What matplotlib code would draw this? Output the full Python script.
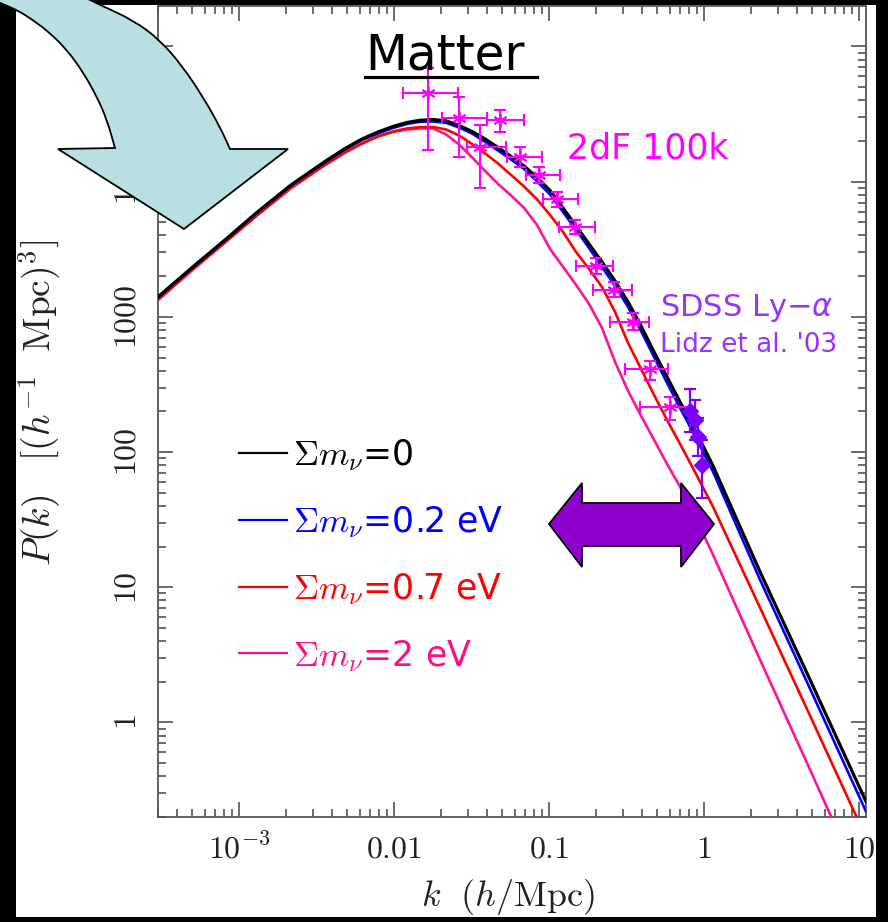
import numpy as np
import matplotlib
matplotlib.use('Agg')
import matplotlib.pyplot as plt
from matplotlib.path import Path
from matplotlib.patches import PathPatch, Rectangle, Polygon
from matplotlib.lines import Line2D
from matplotlib.ticker import FixedLocator, FixedFormatter, LogLocator, NullFormatter

plt.rcParams['mathtext.fontset'] = 'cm'
plt.rcParams['font.family'] = ['DejaVu Sans']

# ---------------- data ----------------
k_grid = [3.00e-4, 4.90e-4, 8.12e-4, 1.327e-3, 2.165e-3, 3.587e-3, 4.83e-3,
          6.22e-3, 7.88e-3, 9.85e-3, 0.01213, 0.01471, 0.01785, 0.02165,
          0.02626, 0.03187, 0.03865, 0.04688, 0.05686, 0.0690, 0.0837,
          0.1015, 0.1231, 0.1493, 0.1811, 0.2197, 0.2665, 0.3233, 0.3922,
          0.4757, 0.5771, 0.7000, 0.9012, 1.143, 2.298, 4.83, 11.10]

P_mnu_0 = [1405, 2283, 3708, 6023, 9454, 14105, 17597, 20687, 23297, 25587,
           27385, 28426, 28816, 28184, 26024, 23496, 20687, 17895, 15361,
           13062, 10740, 8610, 6391, 4706, 3463, 2550, 1846, 1291, 858, 551,
           360, 235.4, 136.6, 79.2, 13.04, 2.075, 0.2602]
P_mnu_02 = [1393, 2264, 3676, 5972, 9374, 13865, 17298, 20335, 22715, 24947,
            26700, 27715, 27851, 27240, 25152, 22709, 19653, 17000, 14593,
            12409, 10031, 8042, 5969, 4395, 3234, 2341, 1695, 1185, 788, 506,
            325, 212.6, 123.4, 71.5, 11.38, 1.780, 0.2196]
P_mnu_07 = [1336, 2188, 3553, 5722, 8983, 13290, 16440, 19160, 21590, 23500,
            24730, 25280, 25370, 24310, 21950, 18990, 16160, 13630, 11210,
            9215, 7387, 5673, 4249, 3023, 2264, 1666, 1089, 642, 413, 265,
            173, 115, 66.8, 39.4, 7.07, 1.125, 0.141]
P_mnu_2 = [1336, 2188, 3553, 5722, 8983, 13290, 16440, 19160, 21590, 23297,
           24310, 24730, 24730, 22330, 18830, 15100, 12000, 9617, 7907, 6391,
           4786, 3181, 2342, 1724, 1248, 829, 465, 284, 185.5, 123.3, 81.9,
           55.4, 31.1, 17.4, 2.916, 0.4486, 0.0535]

series_labels = [r"$\Sigma m_\nu$=0", r"$\Sigma m_\nu$=0.2 eV",
                 r"$\Sigma m_\nu$=0.7 eV", r"$\Sigma m_\nu$=2 eV"]

# 2dF 100k galaxy power spectrum points
k_2df = [0.0166, 0.0262, 0.0359, 0.0483, 0.0650, 0.0862, 0.1126, 0.1473,
         0.2009, 0.2624, 0.3483, 0.4487, 0.604]
k_2df_lo = [0.0114, 0.0204, 0.0296, 0.0398, 0.0536, 0.0711, 0.0914, 0.1160,
            0.1493, 0.1923, 0.2477, 0.3090, 0.3864]
k_2df_hi = [0.0259, 0.0398, 0.0528, 0.0690, 0.0902, 0.1178, 0.1538, 0.1982,
            0.2588, 0.3427, 0.4416, 0.5861, 0.8128]
P_2df = [45250, 29570, 18050, 28580, 15230, 11210, 7450, 4625, 2382, 1584,
         918, 413, 216]
P_2df_lo = [17150, 15230, 8980, 23290, 12840, 9780, 6500, 4106, 2078, 1406,
            801, 342, 173]
P_2df_hi = [69200, 42270, 26240, 33880, 18050, 12840, 8390, 5210, 2730, 1814,
            1070, 473, 256]

# SDSS Ly-alpha points (Lidz et al. '03)
k_lya = [0.812, 0.875, 0.914, 0.970]
P_lya = [202, 173, 130, 80.5]
P_lya_lo = [141, 123, 94, 45.9]
P_lya_hi = [294, 244, 179, 123]

x_ticks = [1e-3, 0.01, 0.1, 1, 10]
x_tick_labels = [r"$10^{-3}$", r"$0.01$", r"$0.1$", r"$1$", r"$10$"]
y_ticks = [1, 10, 100, 1000, 1e4, 1e5]
y_tick_labels = [r"$1$", r"$10$", r"$100$", r"$1000$", r"$10^4$", r"$10^5$"]

# ---------------- figure ----------------
W, H = 888, 922
fig = plt.figure(figsize=(W / 100, H / 100), dpi=100, facecolor='black')


def fx(x):
    return x / W


def fy(y):
    return 1 - y / H


def P(x, y):
    return (fx(x), fy(y))


# white slide area
fig.add_artist(Rectangle(P(16, 917), fx(876) - fx(16), fy(5) - fy(917),
                         transform=fig.transFigure, facecolor='white',
                         edgecolor='none', zorder=-5))

ax = fig.add_axes([fx(158), fy(817), fx(866) - fx(158), fy(6) - fy(817)])
ax.set_facecolor('white')
ax.set_xscale('log')
ax.set_yscale('log')
ax.set_xlim(3e-4, 11.1)
ax.set_ylim(0.2, 1.99e5)

colors = ['black', '#0000ff', '#ff0000', '#ff1493']
curves = [P_mnu_0, P_mnu_02, P_mnu_07, P_mnu_2]
widths = [2.3, 1.9, 1.9, 1.9]
for i in [3, 2, 1, 0]:
    ax.plot(k_grid, curves[i], color=colors[i], lw=widths[i], zorder=3 + (3 - i),
            solid_joinstyle='round')

k2 = np.array(k_2df)
p2 = np.array(P_2df)
ax.errorbar(k2, p2,
            xerr=[k2 - np.array(k_2df_lo), np.array(k_2df_hi) - k2],
            yerr=[p2 - np.array(P_2df_lo), np.array(P_2df_hi) - p2],
            fmt='none', ecolor='#ff00ff', elinewidth=1.5, capsize=4,
            capthick=1.5, zorder=8)
ax.plot(k2, p2, ls='none', marker=(6, 2, 0), ms=10, mec='#ff00ff', mew=1.3,
        zorder=9)

kl = np.array(k_lya)
pl = np.array(P_lya)
ax.errorbar(kl, pl, yerr=[pl - np.array(P_lya_lo), np.array(P_lya_hi) - pl],
            fmt='none', ecolor='#8000ff', elinewidth=1.6, capsize=4.5,
            capthick=1.6, zorder=8)
ax.plot(kl, pl, ls='none', marker='D', ms=8, mfc='#8000ff', mec='#8000ff',
        zorder=9)

# axes cosmetics
for s in ax.spines.values():
    s.set_color('#555555')
    s.set_linewidth(1.3)

ax.xaxis.set_major_locator(FixedLocator(x_ticks))
ax.xaxis.set_major_formatter(FixedFormatter(x_tick_labels))
ax.yaxis.set_major_locator(FixedLocator(y_ticks))
ax.yaxis.set_major_formatter(FixedFormatter(y_tick_labels))
ax.xaxis.set_minor_locator(LogLocator(base=10, subs=np.arange(2, 10), numticks=30))
ax.yaxis.set_minor_locator(LogLocator(base=10, subs=np.arange(2, 10), numticks=30))
ax.xaxis.set_minor_formatter(NullFormatter())
ax.yaxis.set_minor_formatter(NullFormatter())

ax.tick_params(which='both', direction='in', top=True, right=True,
               color='#444444', width=1.1)
ax.tick_params(which='major', length=11)
ax.tick_params(which='minor', length=5.5)
ax.tick_params(axis='x', which='major', labelsize=23, pad=29.5, labelcolor='#222222')
ax.tick_params(axis='y', which='major', labelsize=23, pad=11, labelrotation=90,
               labelcolor='#222222')
for t in ax.xaxis.get_major_ticks():
    t.label1.set_verticalalignment('baseline')
for t in ax.yaxis.get_major_ticks():
    t.label1.set_verticalalignment('center')
    t.label1.set_horizontalalignment('right')

# axis titles
fig.text(fx(40), fy(403), r"$P(k)\ \ \ [(h^{-1}\ \ {\rm Mpc})^3]$", rotation=90,
         ha='center', va='center', fontsize=27, color='#222222')
fig.text(fx(508), fy(897), r"$k\ \ (h/{\rm Mpc})$", ha='center', va='center',
         fontsize=26, color='#222222')

# legend
leg_y = [453, 520, 587, 653]
leg_base = [465, 532, 599, 666]
leg_colors = ['black', '#0000ff', '#ff0000', '#ff1080']
for lab, yy, yb, c in zip(series_labels, leg_y, leg_base, leg_colors):
    fig.add_artist(Line2D([fx(239), fx(287)], [fy(yy), fy(yy)],
                          transform=fig.transFigure, color=c, lw=1.6))
    fig.text(fx(293), fy(yb), lab, color=c, fontsize=25, ha='left',
             va='baseline')

# annotations
fig.text(fx(365), fy(70), "Matter", fontsize=35, ha='left', va='baseline',
         color='black')
fig.add_artist(Line2D([fx(365), fx(537)], [fy(77), fy(77)],
                      transform=fig.transFigure, color='black', lw=2.3))
fig.text(fx(567), fy(158), "2dF 100k", fontsize=25, ha='left', va='baseline',
         color='#ff00ff')
fig.text(fx(660), fy(316), r"SDSS Ly$-\alpha$", fontsize=22, ha='left',
         va='baseline', color='#9933ff', math_fontfamily='dejavusans')
fig.text(fx(660), fy(352), "Lidz et al. '03", fontsize=19, ha='left',
         va='baseline', color='#9933ff')


# curved light-blue arrow (slide decoration)
def add_smooth(verts, codes, pts):
    def mid(a, b):
        return ((a[0] + b[0]) / 2, (a[1] + b[1]) / 2)
    verts.append(mid(pts[0], pts[1]))
    codes.append(Path.LINETO)
    for i in range(1, len(pts) - 1):
        verts += [pts[i], mid(pts[i], pts[i + 1])]
        codes += [Path.CURVE3, Path.CURVE3]
    verts.append(pts[-1])
    codes.append(Path.LINETO)


outer = [(70, -10), (100, 5), (133, 20), (160, 40), (183, 67), (203, 97),
         (220, 127), (230, 149)]
head = [(288, 149), (184, 229), (58, 149), (115, 148)]
inner = [(115, 148), (107, 120), (97, 97), (83, 72), (67, 50), (50, 33),
         (33, 20), (17, 10), (0, 3), (-20, -6)]
verts = [outer[0]]
codes = [Path.MOVETO]
add_smooth(verts, codes, outer)
for p in head:
    verts.append(p)
    codes.append(Path.LINETO)
add_smooth(verts, codes, inner)
verts.append(outer[0])
codes.append(Path.CLOSEPOLY)
verts = [P(x, y) for x, y in verts]
fig.add_artist(PathPatch(Path(verts, codes), transform=fig.transFigure,
                         facecolor='#b9dfe3', edgecolor='black', lw=1.3,
                         zorder=10))

# purple double arrow
darrow = [(549, 524), (582, 483), (582, 503), (681, 503), (681, 483),
          (714, 524), (681, 567), (681, 546), (582, 546), (582, 567)]
fig.add_artist(Polygon([P(x, y) for x, y in darrow], closed=True,
                       transform=fig.transFigure, facecolor='#9000cc',
                       edgecolor='black', lw=1.3, zorder=10))

fig.savefig('out.png', dpi=100, facecolor='black')
